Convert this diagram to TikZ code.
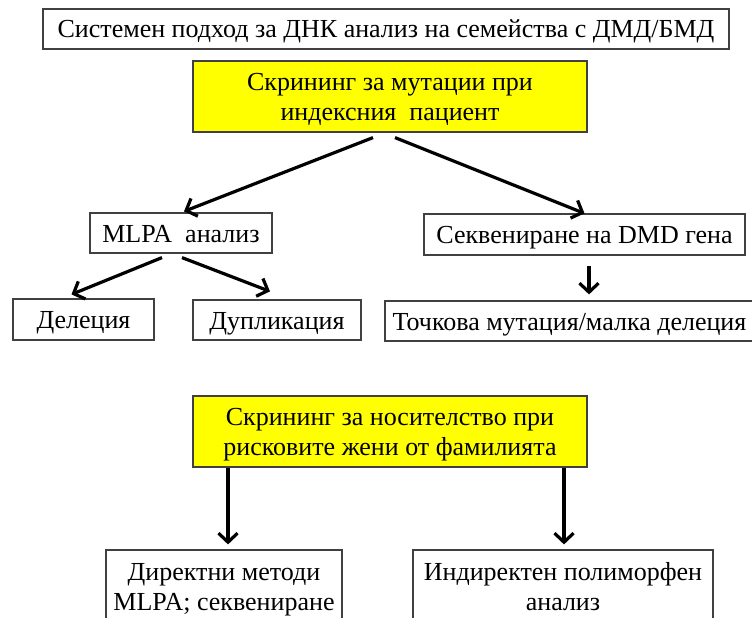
\documentclass[tikz,border=0pt]{standalone}
\usepackage{fontspec}
\setmainfont{Liberation Serif}
\usetikzlibrary{arrows.meta}
\definecolor{boxline}{HTML}{404040}
\definecolor{yel}{HTML}{FFFF00}
\begin{document}
\begin{tikzpicture}[x=1pt,y=-1pt,
  box/.style={draw=boxline, line width=1.2pt, fill=white, inner sep=0pt, align=center,
    font=\fontsize{26}{30}\selectfont, text=black, text height=18pt, text depth=0pt},
  twoline/.style={text height=48pt},
  ybox/.style={box, twoline, fill=yel},
  arr/.style={line width=3.2pt, -{Straight Barb[length=9pt,width=19pt,line width=3.2pt]}}]
\clip (0,0) rectangle (752,618);
\fill[white] (0,0) rectangle (752,618);
\node[box, minimum width=686pt, minimum height=40pt] (title) at (386,29)
  {Системен подход за ДНК анализ на семейства с ДМД/БМД};
\node[ybox, minimum width=394pt, minimum height=71pt] (y1) at (390,96.5)
  {Скрининг за мутации при\\индексния\ \ пациент};
\node[box, minimum width=182pt, minimum height=40pt] (mlpa) at (181,233)
  {MLPA\ \ анализ};
\node[box, minimum width=321pt, minimum height=41pt] (seq) at (584.5,234.5)
  {Секвениране на DMD гена};
\node[box, minimum width=141pt, minimum height=41pt] (del) at (83.5,319.5)
  {Делеция};
\node[box, minimum width=168pt, minimum height=40pt] (dup) at (277,320)
  {Дупликация};
\node[box, minimum width=369pt, minimum height=40pt] (toch) at (569.5,321)
  {Точкова мутация/малка делеция};
\node[ybox, minimum width=394pt, minimum height=71pt] (y2) at (390,431.5)
  {Скрининг за носителство при\\рисковите жени от фамилията};
\node[box, twoline, minimum width=236pt, minimum height=73pt] (dir) at (224,586.5)
  {Директни методи\\MLPA; секвениране};
\node[box, twoline, minimum width=300pt, minimum height=73pt] (ind) at (563,586.5)
  {Индиректен полиморфен\\анализ};
\draw[arr] ([xshift=-17pt,yshift=-5pt]y1.south) -- ([xshift=3pt,yshift=1pt]mlpa.north);
\draw[arr] ([xshift=5pt,yshift=-5pt]y1.south) -- (seq.north);
\draw[arr] ([xshift=-19pt,yshift=-4pt]mlpa.south) -- ([xshift=-12pt,yshift=4pt]del.north);
\draw[arr] ([xshift=1pt,yshift=-4pt]mlpa.south) -- ([xshift=-7pt,yshift=8pt]dup.north);
\draw[arr] ([xshift=4.5pt,yshift=-10pt]seq.south) -- ([xshift=19.5pt,yshift=6pt]toch.north);
\draw[arr] ([xshift=-162pt]y2.south) -- ([xshift=4pt,yshift=5pt]dir.north);
\draw[arr] ([xshift=174pt]y2.south) -- ([xshift=1pt,yshift=5pt]ind.north);
\end{tikzpicture}
\end{document}
